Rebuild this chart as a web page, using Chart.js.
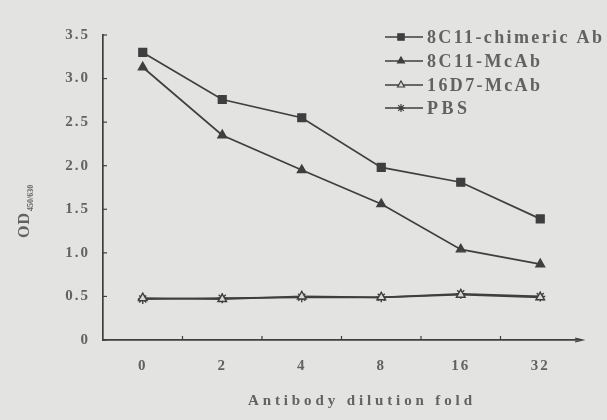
<!DOCTYPE html>
<html>
<head>
<meta charset="utf-8">
<script src="https://cdn.jsdelivr.net/npm/chart.js@4.4.1/dist/chart.umd.min.js"></script>
<style>
  html, body { margin: 0; padding: 0; background: #e3e3e1; }
  #wrap { width: 607px; height: 420px; position: relative; }
</style>
</head>
<body>
<div id="wrap"><canvas id="chart"></canvas></div>
<script>
// values
const dilutions = ['0', '2', '4', '8', '16', '32'];
const chimericAb = [3.30, 2.76, 2.55, 1.98, 1.81, 1.39];
const mcAb8C11 = [3.13, 2.35, 1.95, 1.56, 1.04, 0.87];
const mcAb16D7 = [0.48, 0.47, 0.50, 0.49, 0.52, 0.49];
const pbs = [0.47, 0.48, 0.49, 0.49, 0.53, 0.50];
const yTicks = [0, 0.5, 1.0, 1.5, 2.0, 2.5, 3.0, 3.5];

const ink = '#3f3f3f';
const textInk = '#626262';
const serif = "'Liberation Serif', 'DejaVu Serif', serif";

function series(label, data, style, fill, radius) {
  return {
    label, data,
    borderColor: ink, borderWidth: 1.7,
    pointStyle: style, pointRadius: radius, pointBorderColor: ink,
    pointBackgroundColor: fill, pointBorderWidth: 1.4,
    tension: 0
  };
}

// draw text stretched to a given width with letter spacing
function spacedText(ctx, text, x, y, width) {
  ctx.letterSpacing = '0px';
  const w = ctx.measureText(text).width;
  ctx.letterSpacing = Math.max(0, (width - w) / (text.length - 1)) + 'px';
  ctx.fillText(text, x, y);
  ctx.letterSpacing = '0px';
}

// inward ticks, titles and legend
const decorations = {
  id: 'decorations',
  beforeDraw(chart) {
    chart.ctx.letterSpacing = '2px';
  },
  afterDraw(chart) {
    const { ctx, chartArea, scales } = chart;
    ctx.save();
    ctx.strokeStyle = ink;
    ctx.lineWidth = 1.2;
    // y ticks pointing inwards
    yTicks.forEach(v => {
      const y = scales.y.getPixelForValue(v);
      ctx.beginPath();
      ctx.moveTo(chartArea.left, y);
      ctx.lineTo(chartArea.left + 4, y);
      ctx.stroke();
    });
    // x ticks at category boundaries
    for (let i = 1; i < dilutions.length; i++) {
      const x = (scales.x.getPixelForValue(i - 1) + scales.x.getPixelForValue(i)) / 2;
      ctx.beginPath();
      ctx.moveTo(x, chartArea.bottom);
      ctx.lineTo(x, chartArea.bottom - 4);
      ctx.stroke();
    }
    // small arrow at the end of x axis
    ctx.beginPath();
    ctx.moveTo(chartArea.right - 5, chartArea.bottom - 2);
    ctx.lineTo(chartArea.right + 3, chartArea.bottom);
    ctx.lineTo(chartArea.right - 5, chartArea.bottom + 2);
    ctx.stroke();

    // axis titles
    ctx.fillStyle = textInk;
    ctx.font = 'bold 15px ' + serif;
    ctx.textAlign = 'left';
    ctx.textBaseline = 'middle';
    spacedText(ctx, 'Antibody dilution fold', 248, 401, 224);

    ctx.save();
    ctx.translate(25, 238);
    ctx.rotate(-Math.PI / 2);
    ctx.font = 'bold 16px ' + serif;
    ctx.letterSpacing = '1px';
    ctx.fillText('OD', 0, 0);
    const w = ctx.measureText('OD').width;
    ctx.font = 'bold 8px ' + serif;
    ctx.letterSpacing = '0px';
    ctx.fillText('450/630', w + 1, 6);
    ctx.restore();

    // legend
    ctx.font = 'bold 18px ' + serif;
    const rows = [37, 61, 85, 108];
    const widths = [175, 113, 113, 40];
    chart.data.datasets.forEach((ds, i) => {
      const y = rows[i];
      ctx.strokeStyle = ink;
      ctx.lineWidth = 1.7;
      ctx.beginPath();
      ctx.moveTo(385, y);
      ctx.lineTo(423, y);
      ctx.stroke();
      ctx.fillStyle = ds.pointBackgroundColor;
      ctx.lineWidth = 1.2;
      Chart.helpers.drawPoint(ctx, { pointStyle: ds.pointStyle, radius: ds.pointRadius - 1, borderWidth: 1.2, rotation: 0 }, 401, y);
      ctx.fillStyle = textInk;
      spacedText(ctx, ds.label, 427, y + 1, widths[i]);
    });
    ctx.restore();
  }
};

new Chart(document.getElementById('chart'), {
  type: 'line',
  data: {
    labels: dilutions,
    datasets: [
      series('8C11-chimeric Ab', chimericAb, 'rect', ink, 5.5),
      series('8C11-McAb', mcAb8C11, 'triangle', ink, 5),
      series('16D7-McAb', mcAb16D7, 'triangle', '#d8d8d6', 5),
      series('PBS', pbs, 'star', ink, 5)
    ]
  },
  options: {
    responsive: true,
    maintainAspectRatio: false,
    animation: false,
    layout: { padding: { top: 35, right: 27, bottom: 0, left: 0 } },
    plugins: {
      legend: { display: false },
      tooltip: { enabled: false }
    },
    scales: {
      x: {
        offset: true,
        grid: { display: true, drawOnChartArea: false, drawTicks: false },
        border: { color: ink, width: 1.7 },
        ticks: { color: textInk, padding: 17, font: { family: serif, size: 15, weight: 'bold' } },
        afterFit(scale) { scale.height = 80; }
      },
      y: {
        min: 0, max: 3.5,
        grid: { display: true, drawOnChartArea: false, drawTicks: false },
        border: { color: ink, width: 1.7 },
        ticks: {
          stepSize: 0.5,
          color: textInk, padding: 13,
          font: { family: serif, size: 15, weight: 'bold' },
          callback: v => v === 0 ? '0' : v.toFixed(1)
        },
        afterFit(scale) { scale.width = 103; }
      }
    }
  },
  plugins: [decorations]
});
</script>
</body>
</html>
